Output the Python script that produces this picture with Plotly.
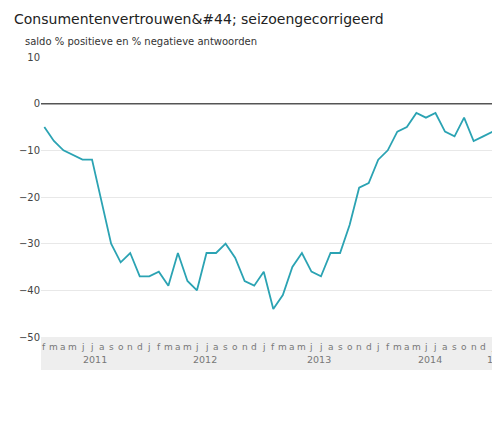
import plotly.graph_objects as go

months = list("fmamjjasondj") * 4
values = [-5, -8, -10, -11, -12, -12, -21, -30, -34, -32, -37, -37,
          -36, -39, -32, -38, -40, -32, -32, -30, -33, -38, -39, -36,
          -44, -41, -35, -32, -36, -37, -32, -32, -26, -18, -17, -12,
          -10, -6, -5, -2, -3, -2, -6, -7, -3, -8, -7, -6]
year_labels = ["2011", "2012", "2013", "2014", "15"]
year_pos = [5.3, 16.8, 28.8, 40.4, 47]
y_ticks = [10, 0, -10, -20, -30, -40, -50]

x = list(range(len(values)))
fig = go.Figure(go.Scatter(x=x, y=values, mode="lines",
                           line=dict(color="#2ba3b3", width=1.8), hoverinfo="skip"))

fig.add_shape(type="rect", xref="paper", yref="paper", x0=0, x1=1, y0=-0.118, y1=0,
              fillcolor="#eeeeee", line_width=0, layer="below")
fig.add_shape(type="line", xref="paper", yref="y", x0=0, x1=1, y0=0, y1=0,
              line=dict(color="#555555", width=1.5))

ann = []
for i, m in enumerate(months):
    ann.append(dict(x=i, y=-0.035, xref="x", yref="paper", text=m, showarrow=False,
                    font=dict(size=9, color="#777777", family="DejaVu Sans"), yanchor="middle"))
for p, t in zip(year_pos, year_labels):
    ann.append(dict(x=p, y=-0.08, xref="x", yref="paper", text=t, showarrow=False,
                    font=dict(size=9.5, color="#777777", family="DejaVu Sans"), yanchor="middle"))

fig.update_layout(
    width=500, height=428, margin=dict(l=27, r=11, t=49, b=99),
    paper_bgcolor="white", plot_bgcolor="white", showlegend=False,
    annotations=ann,
    title=dict(text="Consumentenvertrouwen&amp;#44; seizoengecorrigeerd", x=0.012, xanchor="left",
               y=0.985, yanchor="top", font=dict(size=14, color="#222222", family="DejaVu Sans")),
    xaxis=dict(range=[-0.35, 47.45], showticklabels=False, showgrid=False, zeroline=False),
    yaxis=dict(range=[-50, 10], tickvals=y_ticks, gridcolor="#e8e8e8", zeroline=False,
               tickfont=dict(size=10, color="#444444", family="DejaVu Sans"), ticks=""),
)
fig.add_annotation(text="saldo % positieve en % negatieve antwoorden", xref="paper", yref="paper",
                   x=-0.04, y=1.03, xanchor="left", yanchor="bottom", showarrow=False,
                   font=dict(size=10, color="#333333", family="DejaVu Sans"))
fig.write_html("out.html")
